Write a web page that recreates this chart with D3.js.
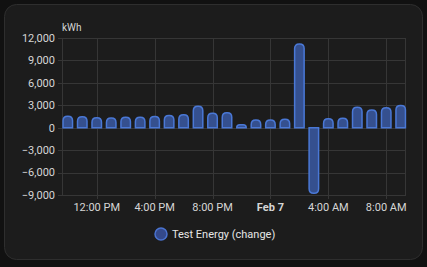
<!DOCTYPE html>
<html>
<head>
<meta charset="utf-8">
<script src="https://cdn.jsdelivr.net/npm/d3@7"></script>
<style>
  body { margin: 0; background: #111111; }
  svg { display: block; font-family: Roboto, "Noto Sans", sans-serif; }
</style>
</head>
<body>
<div id="plot"></div>
<script>
// hourly energy change, 10 AM Feb 6 -> 9 AM Feb 7
const hours = [10, 11, 12, 13, 14, 15, 16, 17, 18, 19, 20, 21, 22, 23,
               0, 1, 2, 3, 4, 5, 6, 7, 8, 9];
const values = [1520, 1480, 1330, 1300, 1400, 1400, 1500, 1650, 1750, 2870, 1930, 2000,
                400, 1030, 1030, 1120, 11190, -8780, 1200, 1250, 2730, 2370, 2660, 2960];
const yTicks = [-9000, -6000, -3000, 0, 3000, 6000, 9000, 12000];
const xTickLabels = ["12:00 PM", "4:00 PM", "8:00 PM", "Feb 7", "4:00 AM", "8:00 AM"];
const seriesName = "Test Energy (change)";
const unit = "kWh";

const w = 427;
const h = 267;
const margin = {top: 38, right: 21, bottom: 72, left: 62};
const innerWidth = w - margin.left - margin.right;
const innerHeight = h - margin.top - margin.bottom;

const times = hours.map((hr, i) => new Date(2024, 1, i < 14 ? 6 : 7, hr));
const data = times.map((t, i) => ({t: t, value: values[i]}));
const tickTimes = [new Date(2024, 1, 6, 12), new Date(2024, 1, 6, 16), new Date(2024, 1, 6, 20),
                   new Date(2024, 1, 7, 0), new Date(2024, 1, 7, 4), new Date(2024, 1, 7, 8)];

const xScale = d3.scaleTime()
    .domain([new Date(2024, 1, 6, 9, 36), new Date(2024, 1, 7, 9, 22)])
    .range([0, innerWidth]);

const yScale = d3.scaleLinear()
    .domain([-9000, 12000])
    .range([innerHeight, 0]);

const svg = d3.select("#plot")
  .append("svg")
    .attr("width", w)
    .attr("height", h);

// card
svg.append("rect")
    .attr("x", 4.5).attr("y", 4.5)
    .attr("width", w - 9).attr("height", 255)
    .attr("rx", 12)
    .attr("fill", "#1c1c1c")
    .attr("stroke", "#2e2e2e");

const g = svg.append("g")
    .attr("transform", `translate(${margin.left}, ${margin.top})`);

// grid
g.append("g")
    .selectAll("line")
    .data(yTicks)
    .join("line")
      .attr("x1", -4).attr("x2", innerWidth)
      .attr("y1", d => Math.round(yScale(d)) + 0.5)
      .attr("y2", d => Math.round(yScale(d)) + 0.5)
      .attr("stroke", "#363636");

g.append("g")
    .selectAll("line")
    .data(tickTimes)
    .join("line")
      .attr("x1", d => Math.round(xScale(d)) + 0.5)
      .attr("x2", d => Math.round(xScale(d)) + 0.5)
      .attr("y1", 0).attr("y2", innerHeight + 4)
      .attr("stroke", "#363636");

g.append("line")
    .attr("x1", 0.5).attr("x2", 0.5)
    .attr("y1", 0).attr("y2", innerHeight)
    .attr("stroke", "#363636");
g.append("line")
    .attr("x1", innerWidth - 0.5).attr("x2", innerWidth - 0.5)
    .attr("y1", 0).attr("y2", innerHeight)
    .attr("stroke", "#363636");

// y labels
g.append("g")
    .selectAll("text")
    .data(yTicks)
    .join("text")
      .attr("x", -7)
      .attr("y", d => yScale(d))
      .attr("dy", "0.35em")
      .attr("text-anchor", "end")
      .attr("font-size", 11)
      .attr("fill", "#d6d6d6")
      .text(d => d3.format(",")(d));

// x labels
g.append("g")
    .selectAll("text")
    .data(tickTimes)
    .join("text")
      .attr("x", (d, i) => xScale(d))
      .attr("y", innerHeight + 16)
      .attr("text-anchor", "middle")
      .attr("font-size", 11)
      .attr("font-weight", (d, i) => xTickLabels[i] === "Feb 7" ? "bold" : "normal")
      .attr("fill", "#d6d6d6")
      .text((d, i) => xTickLabels[i]);

g.append("text")
    .attr("x", 0)
    .attr("y", -7)
    .attr("font-size", 10)
    .attr("fill", "#d6d6d6")
    .text(unit);

// bars with rounded ends
const bw = 9.5;
const r = 4.5;
function barPath(d) {
  const cx = xScale(d.t);
  const x0 = cx - bw / 2, x1 = cx + bw / 2;
  const y0 = yScale(0), y1 = yScale(d.value);
  const hgt = Math.abs(y1 - y0);
  const rr = Math.min(r, hgt);
  if (d.value >= 0) {
    return `M${x0},${y0} V${y1 + rr} Q${x0},${y1} ${x0 + rr},${y1} H${x1 - rr} Q${x1},${y1} ${x1},${y1 + rr} V${y0} Z`;
  }
  return `M${x0},${y0} V${y1 - rr} Q${x0},${y1} ${x0 + rr},${y1} H${x1 - rr} Q${x1},${y1} ${x1},${y1 - rr} V${y0} Z`;
}

g.append("g")
    .selectAll("path")
    .data(data)
    .join("path")
      .attr("d", barPath)
      .attr("fill", "#35508f")
      .attr("stroke", "#4a78d6")
      .attr("stroke-width", 1.5);

// legend
svg.append("circle")
    .attr("cx", 161).attr("cy", 234)
    .attr("r", 6)
    .attr("fill", "#34498a")
    .attr("stroke", "#4a73d0")
    .attr("stroke-width", 1.5);

svg.append("text")
    .attr("x", 172).attr("y", 238)
    .attr("font-size", 11)
    .attr("fill", "#e6e6e6")
    .text(seriesName);
</script>
</body>
</html>
